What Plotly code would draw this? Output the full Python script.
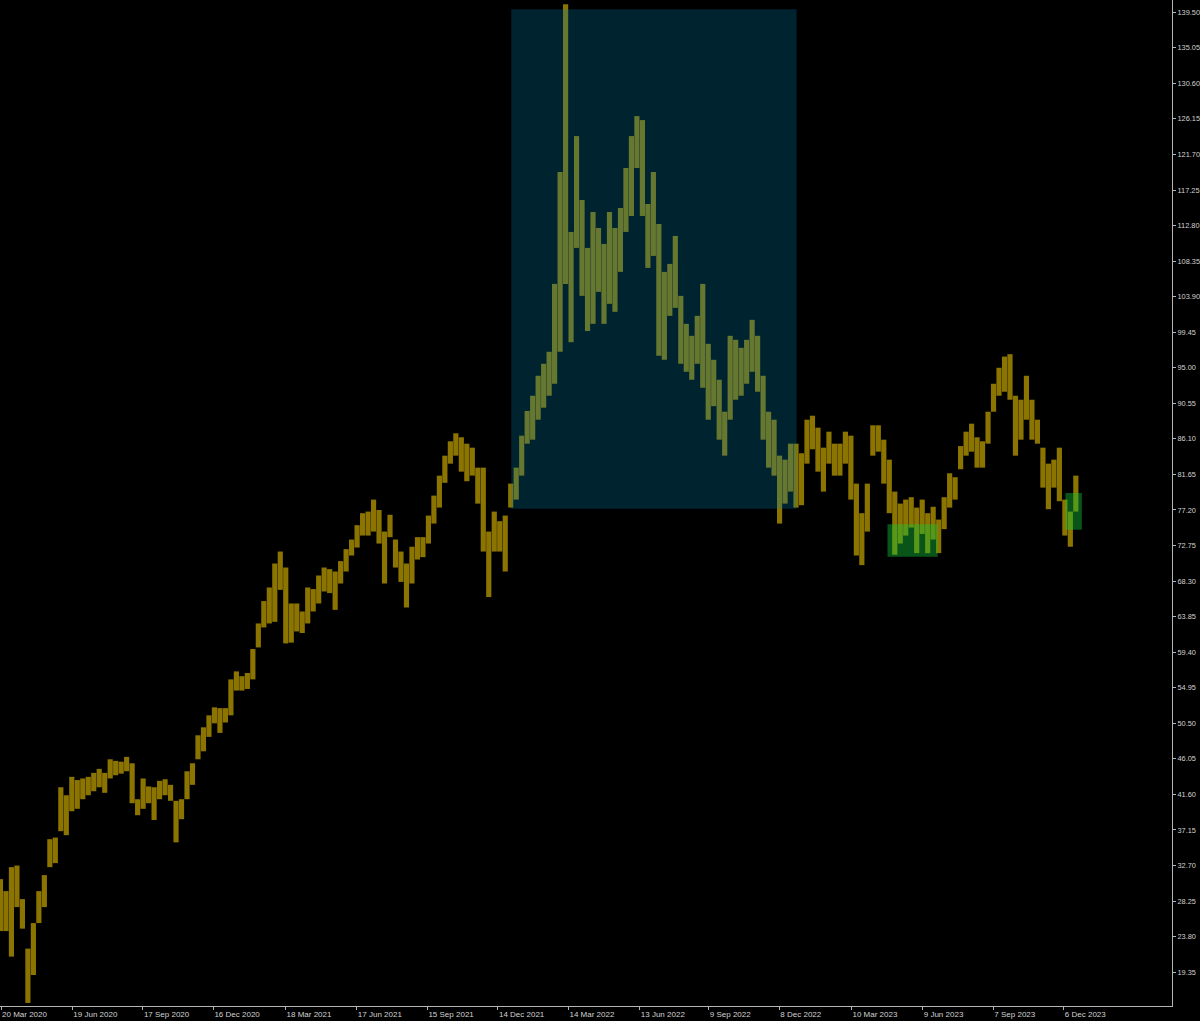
import pandas as pd
import plotly.graph_objects as go

# Weekly price ranges (week starting Monday 2020-03-16)
lows = [24.5, 24.5, 21.3, 27.5, 24.8, 15.5, 19.0, 25.5, 27.5, 32.5,
        33.0, 37.0, 36.5, 39.5, 39.8, 41.0, 41.5, 42.0, 42.5, 41.8,
        43.6, 44.0, 44.2, 44.5, 40.5, 39.0, 39.8, 40.5, 38.4, 41.0,
        41.5, 40.8, 35.6, 38.5, 41.0, 42.8, 46.0, 47.0, 48.8, 50.5,
        49.3, 50.6, 51.5, 54.6, 54.6, 54.8, 56.0, 60.0, 62.5, 63.0,
        63.2, 67.2, 60.5, 60.6, 62.0, 61.8, 63.0, 64.5, 65.5, 67.0,
        66.8, 64.7, 68.0, 69.5, 71.5, 72.5, 74.0, 74.0, 74.5, 73.0,
        68.0, 73.8, 70.0, 68.2, 65.0, 68.0, 71.0, 71.3, 73.0, 75.5,
        77.5, 80.6, 83.0, 84.0, 82.0, 80.8, 81.5, 78.0, 72.0, 66.3,
        72.0, 72.0, 69.5, 77.5, 78.5, 81.5, 85.5, 86.0, 88.5, 90.0,
        91.5, 93.0, 97.0, 105.5, 98.2, 110.0, 104.0, 99.6, 100.5, 104.5,
        100.5, 103.0, 102.0, 107.0, 112.0, 114.0, 120.0, 114.0, 107.5, 109.0,
        96.5, 96.0, 101.5, 102.5, 95.5, 94.5, 93.5, 95.5, 92.5, 88.5,
        90.2, 86.0, 84.0, 88.5, 91.0, 91.5, 93.0, 94.5, 92.0, 86.0,
        82.5, 81.5, 75.5, 78.0, 79.5, 77.5, 77.8, 83.0, 84.8, 82.0,
        79.5, 83.0, 81.5, 81.5, 83.0, 78.5, 71.5, 70.3, 74.5, 84.0,
        84.5, 80.5, 76.8, 71.6, 73.0, 74.0, 75.0, 71.8, 74.2, 71.8,
        73.5, 71.8, 74.8, 77.5, 78.5, 82.3, 84.0, 84.5, 82.5, 82.5,
        85.5, 89.5, 91.5, 92.0, 91.0, 84.0, 86.0, 88.5, 86.0, 85.5,
        80.0, 77.3, 80.0, 78.3, 74.0, 72.6, 77.0]

highs = [31.0, 29.5, 32.5, 32.7, 28.5, 22.3, 25.5, 29.5, 31.5, 36.0,
         36.2, 42.5, 41.5, 43.8, 43.4, 43.6, 43.8, 44.3, 44.8, 44.3,
         46.0, 45.8, 45.7, 46.3, 45.5, 41.0, 43.6, 42.6, 42.5, 43.3,
         43.5, 42.8, 40.8, 41.0, 44.5, 45.5, 49.0, 50.0, 51.5, 52.5,
         52.4, 52.4, 56.0, 57.0, 56.4, 56.8, 59.8, 63.0, 65.8, 67.5,
         70.5, 72.0, 70.0, 65.5, 65.5, 64.5, 67.5, 67.3, 69.0, 70.0,
         69.8, 69.5, 70.8, 72.3, 73.5, 75.3, 76.8, 77.0, 78.5, 77.2,
         74.5, 76.6, 73.5, 72.0, 70.5, 72.6, 73.8, 73.8, 76.5, 79.0,
         81.5, 84.0, 85.8, 86.8, 86.3, 85.5, 85.0, 82.5, 82.5, 74.5,
         77.0, 75.8, 76.5, 80.5, 82.5, 86.5, 89.6, 91.5, 94.0, 95.5,
         97.0, 105.5, 119.5, 140.5, 112.0, 124.0, 116.0, 110.0, 114.5, 112.5,
         110.5, 114.5, 112.5, 115.0, 120.0, 124.0, 126.5, 126.0, 115.5, 119.5,
         113.0, 107.0, 108.0, 111.5, 104.0, 100.5, 99.0, 101.5, 105.5, 98.0,
         96.0, 93.5, 89.5, 99.0, 98.5, 97.5, 98.5, 101.0, 99.0, 94.0,
         89.5, 88.5, 84.0, 83.5, 85.5, 85.5, 84.3, 88.5, 89.0, 87.5,
         85.0, 87.0, 85.5, 85.5, 87.0, 86.5, 80.5, 76.8, 80.5, 87.8,
         87.8, 86.0, 83.5, 79.5, 78.0, 78.5, 78.8, 77.5, 78.5, 76.8,
         77.6, 76.0, 78.8, 81.8, 81.3, 85.2, 87.0, 88.0, 86.3, 85.8,
         89.5, 93.0, 95.0, 96.4, 96.7, 91.5, 91.0, 94.0, 91.0, 88.5,
         85.0, 83.0, 83.5, 85.0, 78.5, 77.0, 81.5]

assert len(lows) == len(highs)
week_start = pd.date_range("2020-03-16", periods=len(lows), freq="W-MON")

# Zones drawn on the chart
zone_blue = {"t0": "2021-12-31", "t1": "2022-12-30", "p0": 77.35, "p1": 139.87}
zone_green1 = {"t0": "2023-04-25", "t1": "2023-06-28", "p0": 71.35, "p1": 75.41}
zone_green2 = {"t0": "2023-12-08", "t1": "2023-12-29", "p0": 74.73, "p1": 79.33}

# Axis ticks
tick_dates = ["2020-03-20", "2020-06-19", "2020-09-17", "2020-12-16",
              "2021-03-18", "2021-06-17", "2021-09-15", "2021-12-14",
              "2022-03-14", "2022-06-13", "2022-09-09", "2022-12-08",
              "2023-03-10", "2023-06-09", "2023-09-07", "2023-12-06"]
tick_labels = ["20 Mar 2020", "19 Jun 2020", "17 Sep 2020", "16 Dec 2020",
               "18 Mar 2021", "17 Jun 2021", "15 Sep 2021", "14 Dec 2021",
               "14 Mar 2022", "13 Jun 2022", "9 Sep 2022", "8 Dec 2022",
               "10 Mar 2023", "9 Jun 2023", "7 Sep 2023", "6 Dec 2023"]
price_ticks = [round(19.35 + 4.45 * k, 2) for k in range(28)]
price_labels = [f"{v:.2f}" for v in price_ticks]

DAY_MS = 86400000
BAR_COLOR = "#8c7400"
AXIS_COLOR = "#b4b4b4"
TEXT_COLOR = "#d2d2d2"

fig = go.Figure()
fig.add_trace(go.Bar(
    x=week_start,
    y=[h - l for h, l in zip(highs, lows)],
    base=lows,
    width=6.6 * DAY_MS,
    offset=0,
    marker=dict(color=BAR_COLOR, line=dict(width=0)),
    hoverinfo="skip",
    showlegend=False,
))

fig.add_shape(type="rect", xref="x", yref="y",
              x0=zone_blue["t0"], x1=zone_blue["t1"],
              y0=zone_blue["p0"], y1=zone_blue["p1"],
              fillcolor="rgb(0,128,176)", opacity=0.27,
              line=dict(width=0), layer="above")
for z in (zone_green1, zone_green2):
    fig.add_shape(type="rect", xref="x", yref="y",
                  x0=z["t0"], x1=z["t1"], y0=z["p0"], y1=z["p1"],
                  fillcolor="rgb(20,200,60)", opacity=0.42,
                  line=dict(width=0), layer="above")

xfont = dict(family="Liberation Sans, DejaVu Sans, sans-serif", size=8, color=TEXT_COLOR)
yfont = dict(family="Liberation Sans, DejaVu Sans, sans-serif", size=7.4, color=TEXT_COLOR)

fig.update_layout(
    width=1200, height=1021,
    margin=dict(l=0, r=28, t=0, b=15),
    paper_bgcolor="#000000",
    plot_bgcolor="#000000",
    font=xfont,
    showlegend=False,
    xaxis=dict(
        type="date",
        range=["2020-03-18 17:00", "2024-04-22"],
        tickvals=tick_dates, ticktext=tick_labels,
        ticklabelposition="outside right",
        showgrid=False, zeroline=False,
        showline=True, linecolor=AXIS_COLOR, linewidth=1,
        ticks="outside", ticklen=3, tickcolor=AXIS_COLOR, tickwidth=1,
        tickfont=xfont,
        automargin=False,
        fixedrange=True,
    ),
    yaxis=dict(
        side="right",
        range=[15.12, 141.03],
        tickvals=price_ticks, ticktext=price_labels,
        showgrid=False, zeroline=False,
        showline=True, linecolor=AXIS_COLOR, linewidth=1,
        ticks="outside", ticklen=3, tickcolor=AXIS_COLOR, tickwidth=1,
        tickfont=yfont,
        automargin=False,
        fixedrange=True,
    ),
)

fig.write_html(
    "out.html",
    config={"displayModeBar": False},
    post_script="document.body.style.margin='0';document.body.style.background='#000';",
)
